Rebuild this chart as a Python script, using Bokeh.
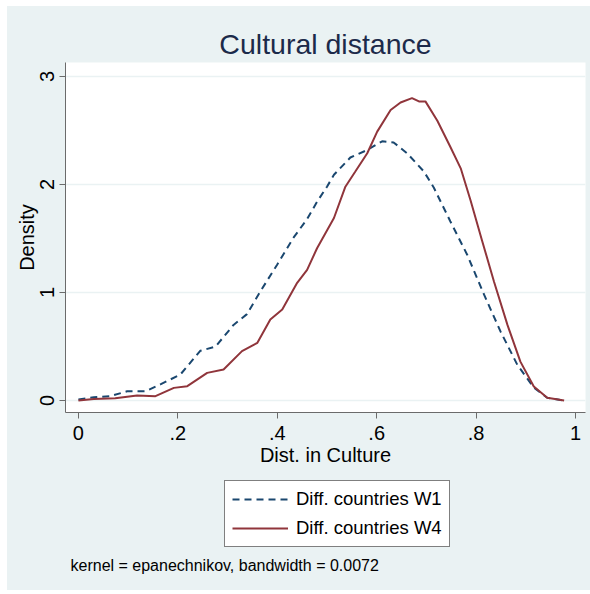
from bokeh.plotting import figure
from bokeh.layouts import column
from bokeh.models import FixedTicker, Legend, LegendItem, Label, Range1d
from bokeh.embed import file_html
from bokeh.resources import INLINE

# Kernel density estimates
w1_x = [0.0, 0.031, 0.064, 0.098, 0.135, 0.165, 0.205, 0.245, 0.276, 0.312, 0.339,
        0.366, 0.40, 0.433, 0.46, 0.48, 0.50, 0.514, 0.547, 0.581, 0.611, 0.634, 0.661,
        0.695, 0.715, 0.748, 0.782, 0.816, 0.849, 0.883, 0.916, 0.943, 0.977]
w1_y = [0.01, 0.03, 0.04, 0.086, 0.086, 0.15, 0.24, 0.46, 0.50, 0.70, 0.80,
        1.01, 1.26, 1.51, 1.68, 1.84, 1.98, 2.09, 2.25, 2.32, 2.40, 2.39, 2.29,
        2.12, 1.97, 1.66, 1.35, 0.98, 0.64, 0.33, 0.12, 0.025, 0.0]

w4_x = [0.0, 0.031, 0.074, 0.118, 0.155, 0.192, 0.219, 0.259, 0.292, 0.329, 0.36,
        0.386, 0.41, 0.44, 0.46, 0.48, 0.514, 0.537, 0.557, 0.581, 0.601, 0.628,
        0.648, 0.671, 0.685, 0.698, 0.722, 0.748, 0.769, 0.789, 0.812, 0.836,
        0.863, 0.889, 0.916, 0.943, 0.977]
w4_y = [0.0, 0.015, 0.02, 0.046, 0.04, 0.117, 0.133, 0.256, 0.287, 0.457, 0.534,
        0.75, 0.843, 1.09, 1.21, 1.41, 1.69, 1.98, 2.12, 2.29, 2.49, 2.69,
        2.76, 2.80, 2.77, 2.77, 2.59, 2.35, 2.15, 1.85, 1.48, 1.10,
        0.70, 0.36, 0.13, 0.025, 0.0]

x_ticks = [0, 0.2, 0.4, 0.6, 0.8, 1]
x_tick_labels = ["0", ".2", ".4", ".6", ".8", "1"]
y_ticks = [0, 1, 2, 3]
series_labels = ["Diff. countries W1", "Diff. countries W4"]
note = "kernel = epanechnikov, bandwidth = 0.0072"

FONT = "Liberation Sans"
BG = "#EAF2F3"
C1 = "#1A476F"
C4 = "#90353B"

# ---- main plot -------------------------------------------------------------
p = figure(width=583, height=468, output_backend="svg", toolbar_location=None,
           x_range=Range1d(-0.026, 1.020), y_range=Range1d(-0.111, 3.13),
           min_border_left=58, min_border_right=5, min_border_top=56,
           min_border_bottom=62, title="Cultural distance")
p.background_fill_color = "white"
p.border_fill_color = BG
p.outline_line_color = None

p.title.align = "center"
p.title.text_font = FONT
p.title.text_font_size = "28.5px"
p.title.text_font_style = "normal"
p.title.text_color = "#1c2a4a"
p.title.standoff = 5

p.line(w1_x, w1_y, line_color=C1, line_width=2, line_dash="7 5")
p.line(w4_x, w4_y, line_color=C4, line_width=2)

for ax in (p.xaxis[0], p.yaxis[0]):
    ax.axis_line_color = "#6b6b6b"
    ax.major_tick_line_color = "#6b6b6b"
    ax.minor_tick_line_color = None
    ax.major_tick_in = 0
    ax.major_tick_out = 6
    ax.major_label_text_font = FONT
    ax.major_label_text_font_size = "20px"
    ax.major_label_text_color = "black"
    ax.axis_label_text_font = FONT
    ax.axis_label_text_font_size = "20px"
    ax.axis_label_text_font_style = "normal"
    ax.axis_label_text_color = "black"

p.xaxis.ticker = FixedTicker(ticks=x_ticks)
p.xaxis.major_label_overrides = dict(zip(x_ticks, x_tick_labels))
p.xaxis.axis_label = "Dist. in Culture"
p.xaxis.major_label_standoff = 7
p.xaxis.axis_label_standoff = 1

p.yaxis.ticker = FixedTicker(ticks=y_ticks)
p.yaxis.major_label_orientation = "vertical"
p.yaxis.axis_label = "Density"
p.yaxis.major_label_standoff = 5
p.yaxis.axis_label_standoff = 0

p.xgrid.visible = False
p.ygrid.ticker = FixedTicker(ticks=y_ticks)
p.ygrid.grid_line_color = BG
p.ygrid.grid_line_width = 1.5

# ---- legend / note panel ---------------------------------------------------
q = figure(width=583, height=116, output_backend="svg", toolbar_location=None,
           x_range=Range1d(-0.026, 1.020), y_range=Range1d(10, 11),
           x_axis_type=None, y_axis_type=None, min_border=0)
q.background_fill_alpha = 0
q.border_fill_alpha = 0
q.outline_line_color = None
q.grid.visible = False
# legend proxies: same series, lying outside the visible range of this panel
k1 = q.line(w1_x, w1_y, line_color=C1, line_width=2, line_dash="7 5")
k4 = q.line(w4_x, w4_y, line_color=C4, line_width=2)

legend = Legend(items=[LegendItem(label=series_labels[0], renderers=[k1]),
                       LegendItem(label=series_labels[1], renderers=[k4])],
                location=(159, 43), orientation="vertical")
legend.border_line_color = "black"
legend.border_line_width = 1
legend.background_fill_color = "white"
legend.background_fill_alpha = 1
legend.label_text_font = FONT
legend.label_text_font_size = "18.5px"
legend.label_text_color = "black"
legend.glyph_width = 56
legend.glyph_height = 20
legend.label_height = 22
legend.spacing = 7
legend.padding = 7
legend.margin = 0
legend.label_standoff = 8
q.add_layout(legend)

q.add_layout(Label(x=5, y=25, x_units="screen", y_units="screen", text=note,
                   text_baseline="middle", text_font=FONT, text_font_size="16px",
                   text_color="black"))

layout = column(p, q, spacing=0)
layout.margin = (6, 0, 0, 7)
layout.styles = {"background-color": BG}

open("out.html", "w").write(file_html(layout, INLINE))
